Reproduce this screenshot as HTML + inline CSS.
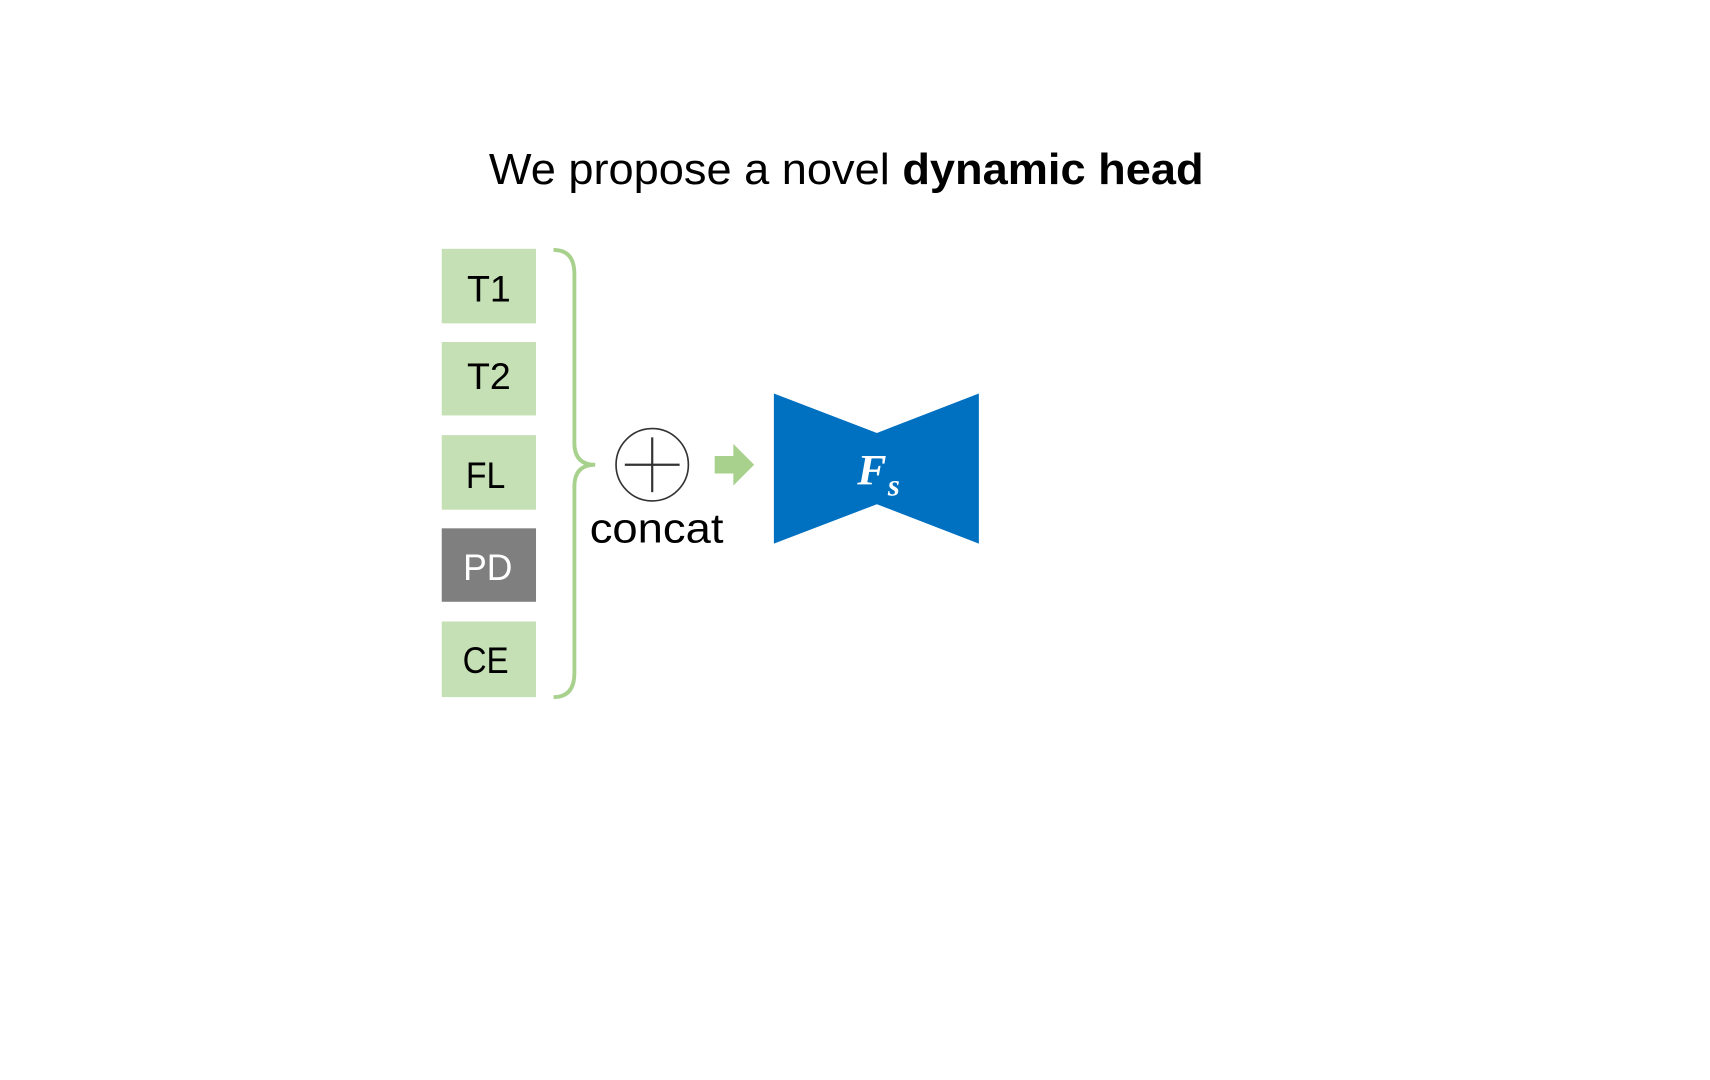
<!DOCTYPE html>
<html><head><meta charset="utf-8"><style>html,body{margin:0;padding:0;background:#fff;width:1710px;height:1080px;overflow:hidden}</style></head>
<body>
<svg width="1710" height="1080" viewBox="0 0 1560 985.3" preserveAspectRatio="none" xmlns="http://www.w3.org/2000/svg">
<rect width="1560" height="986" fill="#fff"/>
<text x="446" y="168" font-family="Liberation Sans, Arial, sans-serif" font-size="40" fill="#000" textLength="652" lengthAdjust="spacingAndGlyphs">We propose a novel <tspan font-weight="bold">dynamic head</tspan></text>
<g font-family="Liberation Sans, Arial, sans-serif" font-size="34" text-anchor="middle">
<rect x="403" y="227" width="86" height="68" fill="#c5e0b4"/>
<text x="446" y="275" fill="#000" textLength="40" lengthAdjust="spacingAndGlyphs">T1</text>
<rect x="403" y="312" width="86" height="67" fill="#c5e0b4"/>
<text x="446" y="355" fill="#000" textLength="40" lengthAdjust="spacingAndGlyphs">T2</text>
<rect x="403" y="397" width="86" height="68" fill="#c5e0b4"/>
<text x="443" y="445" fill="#000" textLength="36" lengthAdjust="spacingAndGlyphs">FL</text>
<rect x="403" y="482" width="86" height="67" fill="#7f7f7f"/>
<text x="445" y="529" fill="#fff" textLength="45" lengthAdjust="spacingAndGlyphs">PD</text>
<rect x="403" y="567" width="86" height="69" fill="#c5e0b4"/>
<text x="443" y="614" fill="#000" textLength="42" lengthAdjust="spacingAndGlyphs">CE</text>
</g>
<path d="M505,228 Q524,228 524,250 L524,404 Q524,424 543,424 Q524,424 524,444 L524,614 Q524,636 505,636" fill="none" stroke="#a9d18e" stroke-width="3.5"/>
<ellipse cx="595" cy="424" rx="33" ry="33" fill="#fff" stroke="#333" stroke-width="1.5"/>
<line x1="570" y1="424" x2="620" y2="424" stroke="#333" stroke-width="2"/>
<line x1="595" y1="399" x2="595" y2="449" stroke="#333" stroke-width="2"/>
<text x="538" y="495" font-family="Liberation Sans, Arial, sans-serif" font-size="38" fill="#000" textLength="122" lengthAdjust="spacingAndGlyphs">concat</text>
<polygon points="652,416 669,416 669,405 688,424 669,443 669,432 652,432" fill="#a9d18e"/>
<polygon points="706,359 800,395 893,359 893,496 800,460 706,496" fill="#0070c0"/>
<text x="782" y="442" font-family="Liberation Serif, serif" font-style="italic" font-weight="bold" font-size="40" fill="#fff">F</text>
<text x="810" y="452" font-family="Liberation Serif, serif" font-style="italic" font-weight="bold" font-size="28" fill="#fff">s</text>
</svg>
</body></html>
